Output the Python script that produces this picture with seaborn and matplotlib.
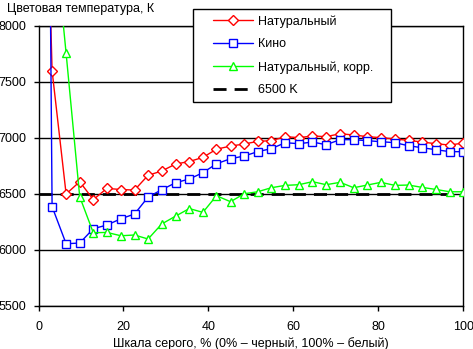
import matplotlib
matplotlib.use("Agg")
import matplotlib.pyplot as plt
import seaborn as sns
import pandas as pd
from matplotlib.patches import Rectangle

# ---- data ----
x_gray = [0, 3.2, 6.5, 9.7, 12.9, 16.1, 19.4, 22.6, 25.8, 29.0, 32.3, 35.5,
          38.7, 41.9, 45.2, 48.4, 51.6, 54.8, 58.1, 61.3, 64.5, 67.7, 71.0,
          74.2, 77.4, 80.6, 83.9, 87.1, 90.3, 93.5, 96.8, 100]
natural = [12000, 7600, 6500, 6610, 6450, 6550, 6540, 6535, 6667, 6705, 6768,
           6790, 6827, 6900, 6928, 6946, 6970, 6976, 7012, 7003, 7018, 7012,
           7038, 7027, 7012, 7003, 6991, 6979, 6964, 6949, 6937, 6955]
kino = [21000, 6387, 6056, 6062, 6190, 6223, 6279, 6321, 6473, 6538, 6601,
        6634, 6690, 6770, 6815, 6839, 6878, 6905, 6958, 6949, 6964, 6940,
        6985, 6985, 6976, 6967, 6958, 6931, 6913, 6896, 6878, 6878]
natural_corr = [15000, 9040, 7756, 6476, 6154, 6157, 6127, 6134, 6098, 6232,
                6303, 6370, 6336, 6485, 6431, 6502, 6520, 6556, 6577, 6583,
                6610, 6583, 6604, 6556, 6580, 6604, 6577, 6580, 6559, 6541,
                6520, 6520]
ref_x = [0, 100]
ref_y = [6500, 6500]

labels = ["Натуральный", "Кино", "Натуральный, корр.", "6500 K"]
x_ticks = [0, 20, 40, 60, 80, 100]
y_ticks = [5500, 6000, 6500, 7000, 7500, 8000]

sns.set_theme(style="white")
plt.rcParams['font.family'] = ['Liberation Sans', 'DejaVu Sans']
FS = 9

fig = plt.figure(figsize=(4.73, 3.49), dpi=100)
ax = fig.add_axes([38.5/473, 1-306/349, (463.3-38.5)/473, (306-26)/349])

for yv in y_ticks:
    ax.axhline(yv, color="black", lw=1.0, zorder=1)

sns.lineplot(x=x_gray, y=natural, ax=ax, color="#FF0000", lw=1.0, marker="D",
             markersize=5.5, mfc="white", mec="#FF0000", mew=1.0, label=labels[0],
             zorder=3, sort=False)
sns.lineplot(x=x_gray, y=kino, ax=ax, color="#0000FF", lw=1.0, marker="s",
             markersize=5.3, mfc="white", mec="#0000FF", mew=1.0, label=labels[1],
             zorder=3, sort=False)
sns.lineplot(x=x_gray, y=natural_corr, ax=ax, color="#00FF00", lw=1.0, marker="^",
             markersize=6, mfc="white", mec="#00FF00", mew=1.0, label=labels[2],
             zorder=3, sort=False)
sns.lineplot(x=ref_x, y=ref_y, ax=ax, color="black", lw=2.0, dashes=(4.7, 2.9),
             label=labels[3], zorder=2.5)

ax.set_xlim(0, 100)
ax.set_ylim(5500, 8000)
ax.set_xticks(x_ticks)
ax.set_yticks(y_ticks)
ax.tick_params(axis="both", direction="out", length=3.5, width=1, color="black",
               labelsize=FS, labelcolor="black", left=True, bottom=True)
ax.tick_params(axis="y", pad=5)
ax.tick_params(axis="x", pad=7)
for s in ax.spines.values():
    s.set_color("black")
    s.set_linewidth(1.0)
ax.set_xlabel("Шкала серого, % (0% – черный, 100% – белый)", fontsize=FS,
              color="black", labelpad=3)
ax.set_ylabel("")
fig.text(7/473, 1-9/349, "Цветовая температура, К", fontsize=FS, color="black",
         va="center", ha="left")

# legend box
bx0, bx1 = (193.3-38.5)/424.8, (391.3-38.5)/424.8
by0, by1 = (306-102)/280, (306-9.3)/280
rect = Rectangle((bx0, by0), bx1-bx0, by1-by0, transform=ax.transAxes,
                 facecolor="white", edgecolor="black", lw=1.0, zorder=4,
                 clip_on=False)
ax.add_patch(rect)
leg = ax.legend(loc="upper left", bbox_to_anchor=((209-38.5)/424.8, (306-11.5)/280),
                frameon=False, fontsize=FS, handlelength=3.2, handletextpad=0.4,
                labelspacing=0.85, borderpad=0.3, borderaxespad=0, numpoints=1)
leg.set_zorder(5)
for t in leg.get_texts():
    t.set_color("black")

fig.savefig("out.png", dpi=100)
